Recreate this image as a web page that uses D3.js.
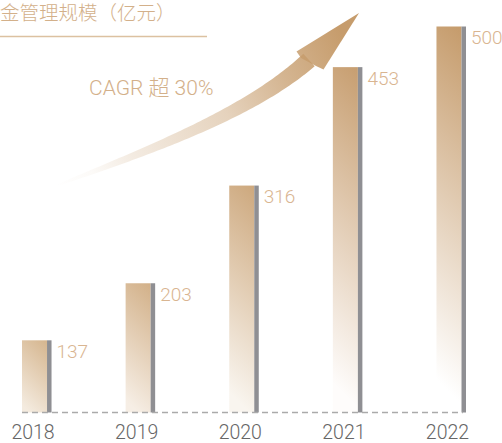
<!DOCTYPE html>
<html>
<head>
<meta charset="utf-8">
<script src="https://cdn.jsdelivr.net/npm/d3@7"></script>
<style>
  html, body { margin: 0; padding: 0; background: #fff; }
  svg { display: block; }
</style>
</head>
<body>
<div id="chart"></div>
<script>
const years = ["2018", "2019", "2020", "2021", "2022"];
const values = [137, 203, 316, 453, 500];
const titleText = "金管理规模（亿元）";
const cagrText = "CAGR 超 30%";

const W = 502, H = 443;
const baseY = 412.5;
const svg = d3.select("#chart").append("svg").attr("width", W).attr("height", H);
const defs = svg.append("defs");

const x = d3.scaleBand().domain(years).range([22, 466]).paddingInner(0.715).paddingOuter(0).align(0);
const y = d3.scaleLinear().domain([53.5, 500]).range([baseY, 26.5]);
const tanW = x.bandwidth() - 4.5;
const hMax = baseY - y(d3.max(values));

const fontLat = "Roboto, 'Noto Sans CJK SC', sans-serif";

// Title
svg.append("text").attr("x", 0).attr("y", 19.5)
  .attr("font-family", "'Noto Sans CJK SC', sans-serif").attr("font-weight", 300)
  .attr("font-size", 19.5).attr("fill", "#d3b08a").text(titleText);
svg.append("line").attr("x1", 0).attr("x2", 207).attr("y1", 36.5).attr("y2", 36.5)
  .attr("stroke", "#dcc1a1").attr("stroke-width", 1.3);

// Arrow gradient
const ag = defs.append("linearGradient").attr("id", "arrowGrad")
  .attr("gradientUnits", "userSpaceOnUse")
  .attr("x1", 55).attr("y1", 185).attr("x2", 340).attr("y2", 30);
[[0, 0], [0.12, 0.05], [0.25, 0.2], [0.57, 0.45], [0.78, 0.75], [1, 1]].forEach(([o, op]) => {
  ag.append("stop").attr("offset", o).attr("stop-color", "#c69c6c").attr("stop-opacity", op);
});

// Arrow shaft: cubic bezier centerline with tapering width
const P = [[58, 185], [150, 150], [250, 113], [309, 60]];
function bez(t) {
  const mt = 1 - t;
  const a = mt * mt * mt, b = 3 * mt * mt * t, c = 3 * mt * t * t, d = t * t * t;
  return [a * P[0][0] + b * P[1][0] + c * P[2][0] + d * P[3][0],
          a * P[0][1] + b * P[1][1] + c * P[2][1] + d * P[3][1]];
}
function dbez(t) {
  const mt = 1 - t;
  const dx = 3 * mt * mt * (P[1][0] - P[0][0]) + 6 * mt * t * (P[2][0] - P[1][0]) + 3 * t * t * (P[3][0] - P[2][0]);
  const dy = 3 * mt * mt * (P[1][1] - P[0][1]) + 6 * mt * t * (P[2][1] - P[1][1]) + 3 * t * t * (P[3][1] - P[2][1]);
  const l = Math.hypot(dx, dy);
  return [dx / l, dy / l];
}
const left = [], right = [];
const N = 80;
for (let i = 0; i <= N; i++) {
  const t = i / N;
  const p = bez(t), d = dbez(t);
  const n = [-d[1], d[0]];
  const w = (1.5 + 15.5 * Math.pow(t, 0.75)) / 2;
  left.push([p[0] - n[0] * w, p[1] - n[1] * w]);
  right.push([p[0] + n[0] * w, p[1] + n[1] * w]);
}
const shaftPts = left.concat(right.reverse());
svg.append("path").attr("d", d3.line()(shaftPts) + "Z").attr("fill", "url(#arrowGrad)");
const head = [[301, 58], [296.5, 51.5], [359, 13], [323.5, 69.5], [316, 66]];
svg.append("path").attr("d", d3.line()(head) + "Z").attr("fill", "url(#arrowGrad)");

svg.append("text").attr("x", 89).attr("y", 94.5)
  .attr("font-family", fontLat).attr("font-weight", 300)
  .attr("font-size", 21).attr("fill", "#d3b08a").text(cagrText);

// Bars
const data = years.map((yr, i) => ({ year: yr, value: values[i] }));
data.forEach((d, i) => {
  const x0 = x(d.year), top = y(d.value), h = baseY - top;
  const k = h / hMax;
  const g = defs.append("linearGradient").attr("id", "bg" + i)
    .attr("gradientUnits", "userSpaceOnUse")
    .attr("x1", x0 + tanW).attr("y1", top)
    .attr("x2", x0 + tanW - (tanW + h) / 2).attr("y2", top + (tanW + h) / 2);
  g.append("stop").attr("offset", 0).attr("stop-color", d3.interpolateRgb("#d9bb96", "#c59b6b")(k));
  g.append("stop").attr("offset", 0.92).attr("stop-color", d3.interpolateRgb("#f1e6d8", "#ffffff")(k));
  g.append("stop").attr("offset", 1).attr("stop-color", d3.interpolateRgb("#f1e6d8", "#ffffff")(k));
});

svg.selectAll("rect.tan").data(data).join("rect").attr("class", "tan")
  .attr("x", d => x(d.year)).attr("y", d => y(d.value))
  .attr("width", tanW).attr("height", d => baseY - y(d.value))
  .attr("fill", (d, i) => "url(#bg" + i + ")");

svg.selectAll("rect.gray").data(data).join("rect").attr("class", "gray")
  .attr("x", d => x(d.year) + tanW).attr("y", d => y(d.value))
  .attr("width", 4.5).attr("height", d => baseY - y(d.value))
  .attr("fill", "#8f8f93");

// Baseline dashed
svg.append("line").attr("x1", 22).attr("x2", 463).attr("y1", baseY).attr("y2", baseY)
  .attr("stroke", "#aaaaaa").attr("stroke-width", 1.5).attr("stroke-dasharray", "6,4");

// Value labels
svg.selectAll("text.val").data(data).join("text").attr("class", "val")
  .attr("x", d => x(d.year) + x.bandwidth() + 5).attr("y", d => y(d.value) + 17.5)
  .attr("font-family", fontLat).attr("font-weight", 300)
  .attr("font-size", 19).attr("fill", "#d9b591").text(d => d.value);

// Year labels via axis
const axis = d3.axisBottom(x).tickSize(0).tickPadding(0);
const ag2 = svg.append("g").attr("transform", `translate(${-(x.bandwidth() - tanW) / 2 - 1.5},0)`).call(axis);
ag2.select(".domain").remove();
ag2.selectAll("text").attr("y", 439).attr("dy", null)
  .attr("font-family", fontLat).attr("font-weight", 300)
  .attr("font-size", 19.5).attr("fill", "#666666");
</script>
</body>
</html>
